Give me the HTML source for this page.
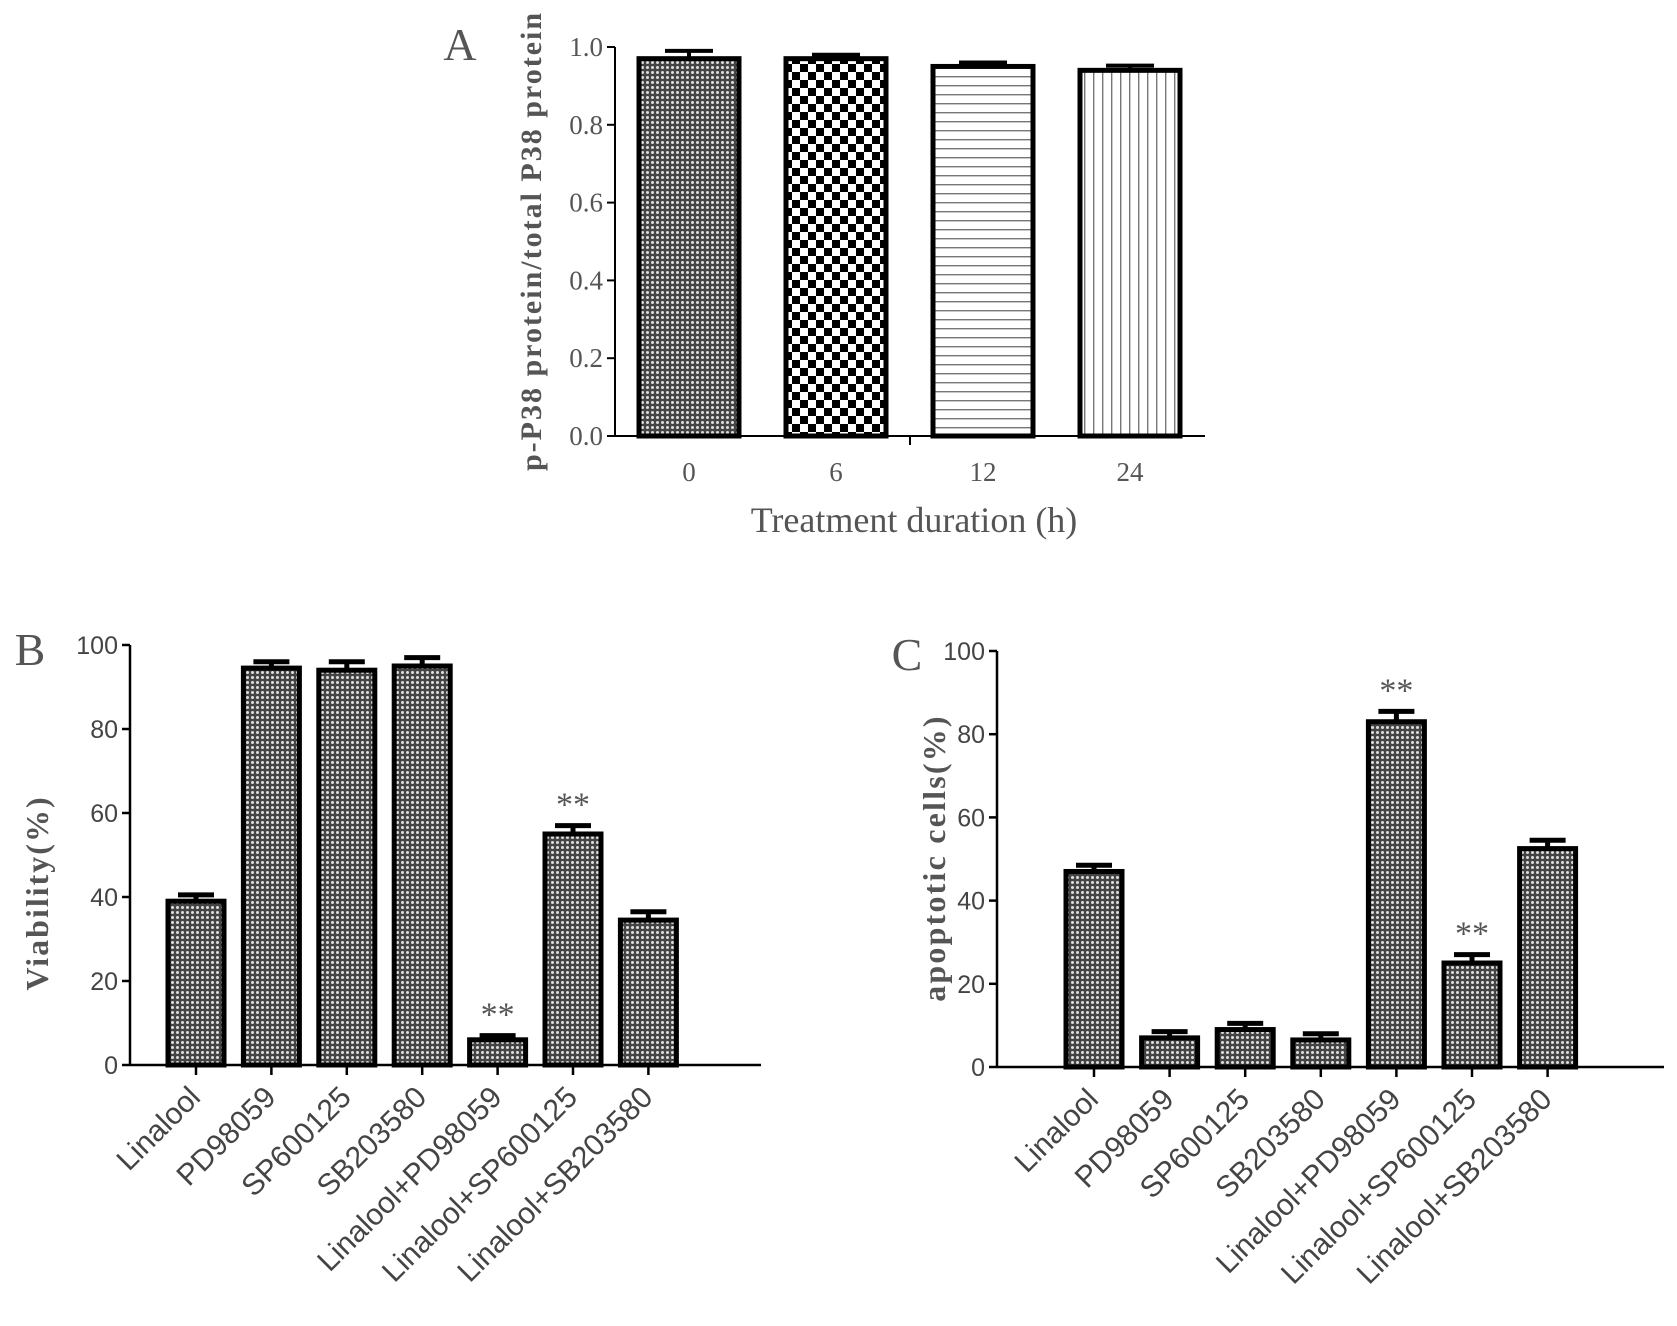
<!DOCTYPE html>
<html><head><meta charset="utf-8"><style>
html,body{margin:0;padding:0;background:#fff;}
svg{display:block;}
.tk{font-family:"Liberation Sans",Arial,sans-serif;font-size:25px;fill:#444;}
.tkL{font-family:"Liberation Sans",Arial,sans-serif;font-size:30px;fill:#444;}
.tkA{font-family:"Liberation Serif",serif;font-size:27px;fill:#555;}
.ttl{font-family:"Liberation Serif",serif;fill:#555;}
</style></head><body>
<svg id="fig" width="1677" height="1326" viewBox="0 0 1677 1326" xmlns="http://www.w3.org/2000/svg">
<defs>
<pattern id="pDot" width="5" height="5" patternUnits="userSpaceOnUse"><rect width="5" height="5" fill="#444"/><circle cx="2.5" cy="2.5" r="1.5" fill="#ddd"/></pattern>
<pattern id="pChk" width="16" height="16" patternUnits="userSpaceOnUse"><rect width="16" height="16" fill="#fff"/><rect width="8" height="8" fill="#000"/><rect x="8" y="8" width="8" height="8" fill="#000"/></pattern>
<pattern id="pH" width="10" height="9" patternUnits="userSpaceOnUse"><rect width="10" height="9" fill="#fff"/><rect y="4" width="10" height="1.4" fill="#777"/></pattern>
<pattern id="pV" width="9" height="10" patternUnits="userSpaceOnUse"><rect width="9" height="10" fill="#fff"/><rect x="4" width="1.4" height="10" fill="#777"/></pattern>
</defs>
<g id="gA"></g><g id="gB"></g><g id="gC"></g>
</svg>
<script>
const catsA = ["0","6","12","24"];
const valsA = [0.97, 0.97, 0.95, 0.94];
const errA = [0.02, 0.01, 0.01, 0.012];
const ticksA = ["0.0","0.2","0.4","0.6","0.8","1.0"];
const catsBC = ["Linalool","PD98059","SP600125","SB203580","Linalool+PD98059","Linalool+SP600125","Linalool+SB203580"];
const valsB = [39, 94.5, 94, 95, 6, 55, 34.5];
const errB = [1.5, 1.5, 2, 2, 1, 2, 2];
const starsB = [false,false,false,false,true,true,false];
const valsC = [47, 7, 9, 6.5, 83, 25, 52.5];
const errC = [1.5, 1.5, 1.5, 1.5, 2.5, 2, 2];
const starsC = [false,false,false,false,true,true,false];
const ticksBC = ["0","20","40","60","80","100"];

const NS="http://www.w3.org/2000/svg";
function mk(parent,tag,attrs,text){const e=document.createElementNS(NS,tag);for(const k in attrs)e.setAttribute(k,attrs[k]);if(text!==undefined)e.textContent=text;parent.appendChild(e);return e;}

// Panel A
(function(){
  const g=document.getElementById('gA');
  const x0=615,x1=1205,yTop=47,yBot=436,maxV=1.0;
  const y=v=>yBot-(v/maxV)*(yBot-yTop);
  const bw=100;
  const cx=i=>689+i*147;
  const fills=["url(#pDot)","url(#pChk)","url(#pH)","url(#pV)"];
  let l=mk(g,'line',{x1:x0,y1:yTop,x2:x0,y2:yBot,stroke:'#000','stroke-width':2});
  
  l=mk(g,'line',{x1:x0,y1:yBot,x2:x1,y2:yBot,stroke:'#000','stroke-width':2});
  
  mk(g,'line',{x1:910,y1:yBot,x2:910,y2:yBot+9,stroke:'#000','stroke-width':2});
  ticksA.forEach(t=>{const v=parseFloat(t);mk(g,'line',{x1:x0-8,y1:y(v),x2:x0,y2:y(v),stroke:'#000','stroke-width':2});
    const tx=mk(g,'text',{x:x0-12,y:y(v)+9,'text-anchor':'end',class:'tkA'},t);
    });
  valsA.forEach((v,i)=>{const c=cx(i);
    const eb=mk(g,'path',{d:`M${c} ${y(v)} V${y(v+errA[i])} M${c-24} ${y(v+errA[i])} H${c+24}`,stroke:'#000','stroke-width':4,fill:'none'});
    
    const r=mk(g,'rect',{x:c-bw/2,y:y(v),width:bw,height:yBot-y(v),fill:fills[i],stroke:'#000','stroke-width':5});
    
    const t=mk(g,'text',{x:c,y:481,'text-anchor':'middle',class:'tkA'},catsA[i]);
    });
  let t=mk(g,'text',{x:914,y:532,'text-anchor':'middle',class:'ttl','font-size':36},'Treatment duration (h)');
  
  t=mk(g,'text',{x:0,y:0,'text-anchor':'middle',class:'ttl','font-size':30,'font-weight':'bold','letter-spacing':2,transform:'translate(541,241) rotate(-90)'},'p-P38 protein/total P38 protein');
  
  t=mk(g,'text',{x:460,y:60,'text-anchor':'middle',class:'ttl','font-size':46,fill:'#333'},'A');
  
})();

function panel(gid,key,x0,x1,yTop,yBot,c0,pitch,vals,errs,stars,title,titleX,titleY,ls,letter,lx,ly){
  const g=document.getElementById(gid);
  const y=v=>yBot-(v/100)*(yBot-yTop);
  const cx=i=>c0+i*pitch, bw=56;
  let l=mk(g,'line',{x1:x0,y1:yTop,x2:x0,y2:yBot,stroke:'#000','stroke-width':2.5});
  
  l=mk(g,'line',{x1:x0,y1:yBot,x2:x1,y2:yBot,stroke:'#000','stroke-width':2.5});
  
  ticksBC.forEach(tk=>{const v=parseFloat(tk);mk(g,'line',{x1:x0-8,y1:y(v),x2:x0,y2:y(v),stroke:'#000','stroke-width':2.5});
    const tx=mk(g,'text',{x:x0-12,y:y(v)+9,'text-anchor':'end',class:'tk'},tk);
    });
  vals.forEach((v,i)=>{const c=cx(i);
    mk(g,'line',{x1:c,y1:yBot,x2:c,y2:yBot+10,stroke:'#000','stroke-width':2.5});
    const eb=mk(g,'path',{d:`M${c} ${y(v)} V${y(v+errs[i])} M${c-18} ${y(v+errs[i])} H${c+18}`,stroke:'#000','stroke-width':5,fill:'none'});
    
    const r=mk(g,'rect',{x:c-bw/2,y:y(v),width:bw,height:yBot-y(v),fill:'url(#pDot)',stroke:'#000','stroke-width':5});
    
    if(stars[i]){const s=mk(g,'text',{x:c,y:y(v+errs[i])-10,'text-anchor':'middle',class:'ttl','font-size':34,fill:'#888'},'**');
      }
    const t=mk(g,'text',{x:0,y:0,'text-anchor':'end',class:'tkL',transform:`translate(${c+6},${yBot+34}) rotate(-45)`},catsBC[i]);
    });
  let t=mk(g,'text',{x:0,y:0,'text-anchor':'middle',class:'ttl','font-size':32,'font-weight':'bold',fill:'#666','letter-spacing':ls,transform:`translate(${titleX},${titleY}) rotate(-90)`},title);
  
  t=mk(g,'text',{x:lx,y:ly,'text-anchor':'middle',class:'ttl','font-size':46,fill:'#333'},letter);
  
}
panel('gB','b',130,761,645,1065,196,75.4,valsB,errB,starsB,'Viability(%)',48,893,2,'B',30,665);
panel('gC','c',997,1664,651,1067,1094,75.6,valsC,errC,starsC,'apoptotic cells(%)',945,858,2.2,'C',907,670);
</script>
</body></html>
